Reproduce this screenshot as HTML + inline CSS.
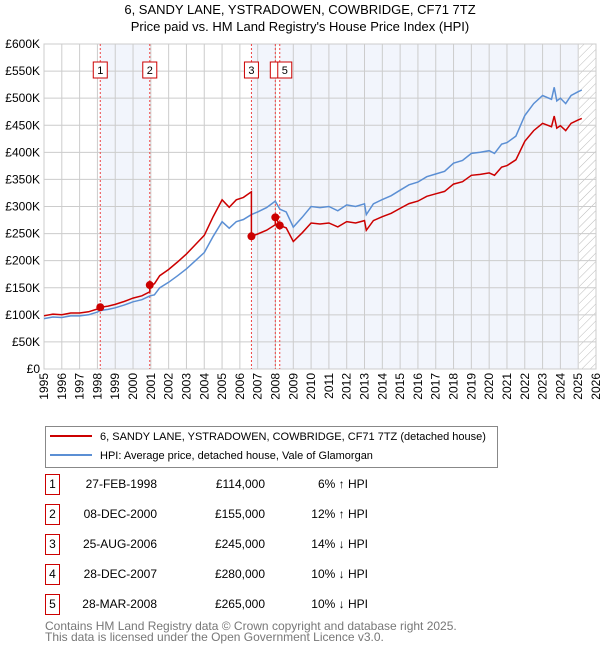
<!DOCTYPE html>
<html><head><meta charset="utf-8"><style>
body{margin:0;background:#fff;font-family:"Liberation Sans","DejaVu Sans",sans-serif;}
svg{display:block}
</style></head><body>
<svg id="chart" width="600" height="650" xmlns="http://www.w3.org/2000/svg">
<defs><pattern id="hatch" width="6" height="6" patternUnits="userSpaceOnUse" patternTransform="rotate(45)"><line x1="0" y1="0" x2="0" y2="6" stroke="#bbb" stroke-width="1"/></pattern></defs>
<text x="300" y="14" text-anchor="middle" font-size="13" fill="#000">6, SANDY LANE, YSTRADOWEN, COWBRIDGE, CF71 7TZ</text>
<text x="300" y="31" text-anchor="middle" font-size="13" fill="#000">Price paid vs. HM Land Registry's House Price Index (HPI)</text>
<g id="plot"></g>
<g>
<rect x="45.5" y="426.5" width="452" height="41" fill="#fff" stroke="#888"/>
<line x1="50" y1="436" x2="92" y2="436" stroke="#cc0000" stroke-width="2"/>
<text x="100" y="440" font-size="11">6, SANDY LANE, YSTRADOWEN, COWBRIDGE, CF71 7TZ (detached house)</text>
<line x1="50" y1="455" x2="92" y2="455" stroke="#5b8fd4" stroke-width="2"/>
<text x="100" y="459" font-size="11">HPI: Average price, detached house, Vale of Glamorgan</text>
</g>
<g id="table" font-size="12"></g>
<text x="45" y="630" font-size="12" fill="#777">Contains HM Land Registry data © Crown copyright and database right 2025.</text>
<text x="45" y="641" font-size="12" fill="#777">This data is licensed under the Open Government Licence v3.0.</text>
</svg>
<script>
const hpiYears=[1995,1995.5,1996,1996.5,1997,1997.5,1998,1998.16,1998.6,1999,1999.5,2000,2000.5,2000.94,2001.2,2001.5,2002,2002.5,2003,2003.5,2004,2004.5,2005,2005.4,2005.8,2006.2,2006.65,2007,2007.5,2007.99,2008.24,2008.6,2009,2009.5,2010,2010.5,2011,2011.5,2012,2012.5,2013,2013.1,2013.5,2014,2014.5,2015,2015.5,2016,2016.5,2017,2017.5,2018,2018.5,2019,2019.5,2020,2020.3,2020.7,2021,2021.5,2022,2022.5,2023,2023.5,2023.65,2023.8,2024,2024.3,2024.6,2025,2025.2];
const hpiValues=[93,96,95,98,98,100,105,108,110,113,118,124,128,135,137,150,160,172,185,200,215,245,272,260,272,276,285,290,298,310,295,290,262,280,300,298,300,292,303,300,305,285,305,313,320,330,340,345,355,360,365,380,385,398,400,403,398,415,418,430,468,490,505,498,520,495,500,490,505,512,515];
const saleLabels=["1","2","3","4","5"];
const saleDates=["27-FEB-1998","08-DEC-2000","25-AUG-2006","28-DEC-2007","28-MAR-2008"];
const saleYears=[1998.16,2000.94,2006.65,2007.99,2008.24];
const salePrices=[114000,155000,245000,280000,265000];
const saleDiffs=["6% \u2191 HPI","12% \u2191 HPI","14% \u2193 HPI","10% \u2193 HPI","10% \u2193 HPI"];
const yTicks=[0,50,100,150,200,250,300,350,400,450,500,550,600];
const xTicks=[1995,1996,1997,1998,1999,2000,2001,2002,2003,2004,2005,2006,2007,2008,2009,2010,2011,2012,2013,2014,2015,2016,2017,2018,2019,2020,2021,2022,2023,2024,2025,2026];

const L=44,R=596,T=44,B=369,X0=1995,X1=2026;
const xs=y=>L+(y-X0)/(X1-X0)*(R-L);
const ys=v=>B-v/600*(B-T);
const NS="http://www.w3.org/2000/svg";
const plot=document.getElementById('plot');
function mk(tag,attrs,parent){const e=document.createElementNS(NS,tag);for(const k in attrs)e.setAttribute(k,attrs[k]);(parent||plot).appendChild(e);return e;}
function hpiAt(t){for(let i=1;i<hpiYears.length;i++){if(t<=hpiYears[i]){const f=(t-hpiYears[i-1])/(hpiYears[i]-hpiYears[i-1]);return hpiValues[i-1]+f*(hpiValues[i]-hpiValues[i-1]);}}return hpiValues[hpiValues.length-1];}

mk('rect',{x:L,y:T,width:R-L,height:B-T,fill:'#fff'});
const bandEdges=saleYears.concat([2025.0]);
for(let i=0;i<bandEdges.length-1;i+=2){
 const r=mk('rect',{x:xs(bandEdges[i]),y:T,width:xs(bandEdges[i+1])-xs(bandEdges[i]),height:B-T,fill:'#f2f5fc'});
 
 
}
mk('rect',{x:xs(2025.05),y:T,width:R-xs(2025.05),height:B-T,fill:'url(#hatch)'});
xTicks.forEach(t=>{mk('line',{x1:xs(t),x2:xs(t),y1:T,y2:B,stroke:'#ccc','stroke-width':1});
 const tx=mk('text',{x:0,y:0,'font-size':12,'text-anchor':'end',transform:`translate(${xs(t)+4},${B+4}) rotate(-90)`});tx.textContent=t;
 
 });
yTicks.forEach(v=>{mk('line',{x1:L,x2:R,y1:ys(v),y2:ys(v),stroke:'#ccc','stroke-width':1});
 const tx=mk('text',{x:L-4,y:ys(v)+4,'font-size':12,'text-anchor':'end'});tx.textContent=v===0?'£0':'£'+v+'K';
 
 });
mk('rect',{x:L,y:T,width:R-L,height:B-T,fill:'none',stroke:'#ccc'});
saleYears.forEach(s=>mk('line',{x1:xs(s),x2:xs(s),y1:T,y2:B,stroke:'#e44','stroke-width':1,'stroke-dasharray':'2,2'}));
let d='';hpiYears.forEach((t,i)=>{d+=(i?'L':'M')+xs(t).toFixed(1)+','+ys(hpiValues[i]).toFixed(1);});
const hl=mk('path',{d:d,fill:'none',stroke:'#5b8fd4','stroke-width':1.5});


let pts=[];
const allT=[...new Set(hpiYears.concat(saleYears))].sort((a,b)=>a-b);
allT.forEach(t=>{let k=0;for(let j=0;j<saleYears.length;j++)if(t>=saleYears[j])k=j;
 const ratio=salePrices[k]/1000/hpiAt(saleYears[k]);
 if(saleYears.includes(t)&&k>0){const pr=salePrices[k-1]/1000/hpiAt(saleYears[k-1]);pts.push([t,hpiAt(t)*pr]);}
 pts.push([t,hpiAt(t)*ratio]);});
d='';pts.forEach((p,i)=>{d+=(i?'L':'M')+xs(p[0]).toFixed(1)+','+ys(p[1]).toFixed(1);});
const pl=mk('path',{d:d,fill:'none',stroke:'#cc0000','stroke-width':1.5});


saleYears.forEach((s,i)=>{const c=mk('circle',{cx:xs(s),cy:ys(salePrices[i]/1000),r:4,fill:'#cc0000'});
 
 });
saleYears.forEach((s,i)=>{if(i===3){mk('rect',{x:xs(s)-5,y:62,width:14,height:16,fill:'#fff',stroke:'#cc0000'});return;}
 const g=mk('g',{});
 
 
 mk('rect',{x:xs(s)-(i===4?2:7),y:62,width:14,height:16,fill:'#fff',stroke:'#cc0000'},g);
 const tx=mk('text',{x:xs(s)+(i===4?5:0),y:74,'font-size':11,'text-anchor':'middle'},g);tx.textContent=saleLabels[i];});
const tb=document.getElementById('table');
saleLabels.forEach((lab,i)=>{const y=483+i*30;
 const g=mk('g',{},tb);
 
 
 mk('rect',{x:45.5,y:y-8.5,width:14,height:20,fill:'#fff',stroke:'#cc0000'},g);
 let t=mk('text',{x:52.5,y:y+5,'text-anchor':'middle'},g);t.textContent=lab;
 t=mk('text',{x:157,y:y+5,'text-anchor':'end'},g);t.textContent=saleDates[i];
 t=mk('text',{x:265,y:y+5,'text-anchor':'end'},g);t.textContent='£'+salePrices[i].toLocaleString('en-GB');
 t=mk('text',{x:368,y:y+5,'text-anchor':'end'},g);t.textContent=saleDiffs[i];});
</script>
</body></html>
